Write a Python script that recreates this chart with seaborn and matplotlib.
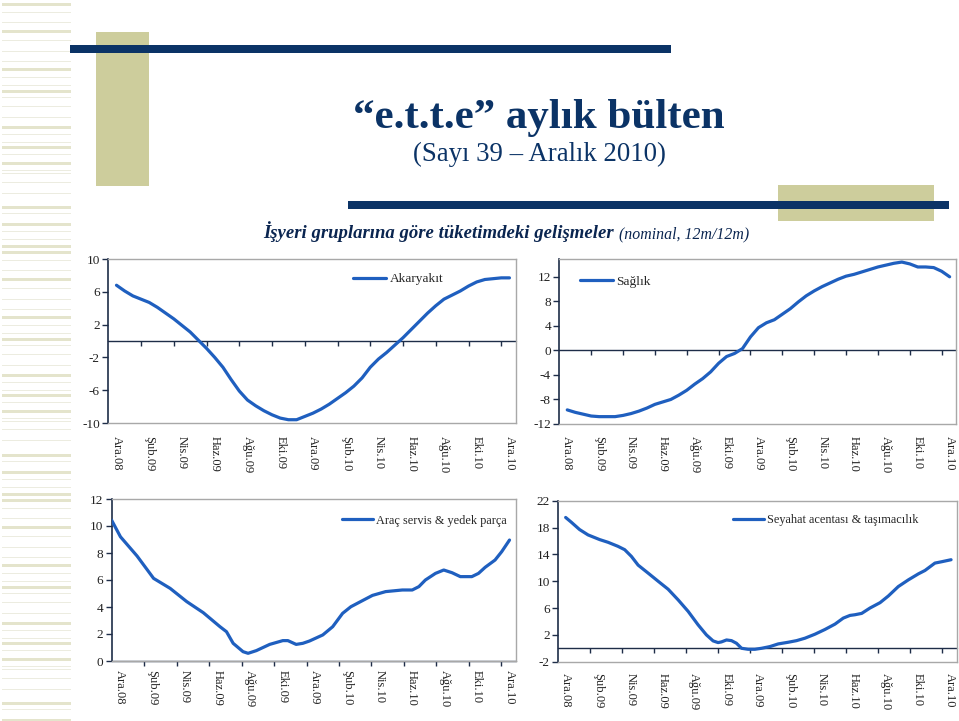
import numpy as np
import matplotlib
matplotlib.use("Agg")
import matplotlib.pyplot as plt
import seaborn as sns
from matplotlib.patches import Rectangle

# x axis: months since Ara.08, labels every two months
month_labels = ["Ara.08", "Şub.09", "Nis.09", "Haz.09", "Ağu.09", "Eki.09", "Ara.09",
                "Şub.10", "Nis.10", "Haz.10", "Ağu.10", "Eki.10", "Ara.10"]
label_pos = np.arange(0, 25, 2)
tick_pos = np.arange(1.5, 24, 2)

half_month = np.arange(0, 24.5, 0.5)

akaryakit = [6.8, 6.1, 5.5, 5.1, 4.7, 4.1, 3.4, 2.7, 1.9, 1.1, 0.1, -0.9, -2.0, -3.2,
             -4.7, -6.1, -7.2, -7.9, -8.5, -9.0, -9.4, -9.6, -9.6, -9.2, -8.8, -8.3,
             -7.7, -7.0, -6.3, -5.5, -4.5, -3.2, -2.2, -1.4, -0.5, 0.4, 1.4, 2.4, 3.4,
             4.3, 5.1, 5.6, 6.1, 6.7, 7.2, 7.5, 7.6, 7.7, 7.7]

saglik = [-9.7, -10.1, -10.4, -10.7, -10.8, -10.8, -10.8, -10.6, -10.3, -9.9, -9.4,
          -8.8, -8.4, -8.0, -7.3, -6.5, -5.5, -4.6, -3.5, -2.1, -1.0, -0.5, 0.3, 2.2,
          3.7, 4.5, 5.0, 5.9, 6.8, 7.9, 8.9, 9.7, 10.4, 11.0, 11.6, 12.1, 12.4, 12.8,
          13.2, 13.6, 13.9, 14.2, 14.4, 14.1, 13.6, 13.6, 13.5, 12.9, 12.0]

arac_x = [-0.51, 0.04, 1.06, 2.08, 3.10, 4.12, 5.14, 6.17, 6.57, 6.98, 7.59, 7.90,
          8.41, 9.23, 10.04, 10.35, 10.86, 11.27, 11.68, 12.50, 13.11, 13.72, 14.23,
          14.94, 15.56, 16.37, 17.40, 18.01, 18.42, 18.82, 19.44, 19.95, 20.46, 20.97,
          21.68, 22.09, 22.50, 23.11, 23.52, 24.0]
arac = [10.44, 9.2, 7.78, 6.12, 5.38, 4.40, 3.58, 2.54, 2.17, 1.31, 0.69, 0.57,
        0.77, 1.23, 1.51, 1.51, 1.23, 1.31, 1.48, 1.93, 2.54, 3.53, 4.02,
        4.47, 4.86, 5.14, 5.26, 5.26, 5.51, 6.0, 6.49, 6.74, 6.54, 6.25,
        6.25, 6.49, 6.94, 7.48, 8.1, 8.96]

seyahat_x = [-0.04, 0.31, 0.83, 1.36, 2.09, 2.61, 3.23, 3.65, 4.07, 4.49, 5.12, 5.74,
             6.37, 7.0, 7.62, 8.24, 8.76, 9.18, 9.49, 9.70, 10.02, 10.33, 10.64, 10.96,
             11.37, 11.79, 12.21, 12.73, 13.25, 13.88, 14.40, 14.92, 15.55, 16.17, 16.80,
             17.32, 17.74, 18.05, 18.47, 18.99, 19.62, 20.14, 20.76, 21.39, 22.02, 22.43,
             23.05, 23.47, 24.06]
seyahat = [19.5, 18.8, 17.7, 16.9, 16.2, 15.8, 15.2, 14.7, 13.7, 12.4, 11.2, 10.0,
           8.8, 7.2, 5.5, 3.5, 2.0, 1.1, 0.85, 0.95, 1.24, 1.14, 0.75, 0.0,
           -0.15, -0.15, 0.0, 0.25, 0.65, 0.9, 1.14, 1.5, 2.1, 2.8, 3.6,
           4.5, 4.9, 5.0, 5.2, 6.0, 6.8, 7.8, 9.2, 10.2, 11.1, 11.6,
           12.7, 12.9, 13.2]

W, H = 959, 721
navy = "#0b3366"
tan = "#cdcd9c"
blue = "#1f5fbf"
dark = "#1e2d48"
frame = "#a8a8a8"

sns.set_style("white")
plt.rcParams["font.family"] = ["Liberation Serif", "DejaVu Serif"]
plt.rcParams["axes.unicode_minus"] = False

fig = plt.figure(figsize=(W / 100, H / 100), dpi=100)


def px_rect(x0, y0, x1, y1, color, z=0):
    fig.add_artist(Rectangle((x0 / W, 1 - y1 / H), (x1 - x0) / W, (y1 - y0) / H,
                             transform=fig.transFigure, color=color, lw=0, zorder=z))


# left stripes
stripes = [(4, 3), (12, 1), (22, 1), (31, 3), (40, 1), (51, 1), (61, 1), (69, 3), (77, 1),
           (85, 1), (91, 3), (97, 1), (106, 1), (117, 1), (127, 3), (134, 1), (142, 1),
           (147, 3), (154, 1), (163, 3), (170, 1), (173, 1), (182, 1), (193, 1), (207, 3),
           (213, 1), (224, 3), (231, 1), (239, 1), (246, 3)]
for rep in range(3):
    for y, h in stripes:
        yy = y + rep * 248
        if yy < H:
            px_rect(2, yy - h / 2, 71, yy + h / 2, "#e4e4cc" if h > 1 else "#ececE0")

# header blocks
px_rect(96, 32, 149, 186, tan, 1)
px_rect(70, 45, 671, 53, navy, 2)
px_rect(778, 185, 934, 221, tan, 1)
px_rect(348, 201, 949, 209, navy, 2)

fig.text(539 / W, 1 - 128 / H, "\u201ce.t.t.e\u201d aylık bülten", ha="center", va="baseline",
         fontsize=31, fontweight="bold", color=navy)
fig.text(539 / W, 1 - 161 / H, "(Sayı 39 \u2013 Aralık 2010)", ha="center", va="baseline",
         fontsize=19.3, color=navy)
t1 = fig.text(263 / W, 1 - 238 / H, "İşyeri gruplarına göre tüketimdeki gelişmeler",
              ha="left", va="baseline", fontsize=13.5, fontweight="bold", style="italic",
              color="#0a2550")
fig.canvas.draw()
bb = t1.get_window_extent()
fig.text((bb.x1 + 5) / W, 1 - 238 / H, "(nominal, 12m/12m)", ha="left", va="baseline",
         fontsize=11.4, style="italic", color="#0a2550")

panels = [
    # (left, top, right, bottom px), x, y, name, ylim, yticks, legend anchor, legend size, label pad
    ((108.3, 259, 516, 423), half_month, akaryakit, "Akaryakıt", (-10, 10),
     np.arange(-10, 11, 4), (0.600, 0.878), 9.6, 9),
    ((559.3, 259, 956, 424), half_month, saglik, "Sağlık", (-12, 14.9),
     np.arange(-12, 13, 4), (0.052, 0.862), 9.6, 9),
    ((111.7, 499, 516, 661), arac_x, arac, "Araç servis & yedek parça", (0, 12),
     np.arange(0, 13, 2), (0.570, 0.866), 8.8, 6.5),
    ((558.3, 500.7, 956.5, 661.7), seyahat_x, seyahat, "Seyahat acentası & taşımacılık",
     (-2, 22), np.arange(-2, 23, 4), (0.439, 0.880), 8.8, 8),
]

for (l, t, r, b), xs, ys, name, ylim, yticks, anchor, lsize, xpad in panels:
    ax = fig.add_axes([l / W, 1 - b / H, (r - l) / W, (b - t) / H])
    ax.axhline(0, color=dark, lw=1, zorder=1, clip_on=False)
    sns.lineplot(x=xs, y=ys, ax=ax, color=blue, linewidth=2.3, label=name, zorder=3)
    ax.set_xlim(-0.5, 24.4)
    ax.set_ylim(*ylim)
    ax.set_yticks(yticks)
    ax.set_xticks(label_pos)
    ax.set_xticklabels(month_labels, rotation=-90, va="top", ha="center")
    ax.tick_params(axis="x", length=0, pad=xpad, labelsize=9, labelcolor="#222222")
    ax.tick_params(axis="y", direction="out", length=4, width=1, color=dark, pad=2,
                   labelsize=9.5, labelcolor="#222222", left=True)
    # tick marks on the zero line
    yz = (0 - ylim[0]) / (ylim[1] - ylim[0])
    ax.vlines(tick_pos, yz - 5 / (b - t), yz, transform=ax.get_xaxis_transform(),
              colors=dark, lw=1, clip_on=False)
    for s in ["top", "right", "bottom"]:
        ax.spines[s].set_color(frame)
        ax.spines[s].set_linewidth(1)
    ax.spines["left"].set_color(dark)
    ax.spines["left"].set_linewidth(1.2)
    ax.set_xlabel("")
    ax.set_ylabel("")
    ax.legend(loc="center left", bbox_to_anchor=anchor, frameon=False, borderpad=0,
              borderaxespad=0, handlelength=2.5, handletextpad=0.25, fontsize=lsize)

fig.savefig("out.png", dpi=100)
